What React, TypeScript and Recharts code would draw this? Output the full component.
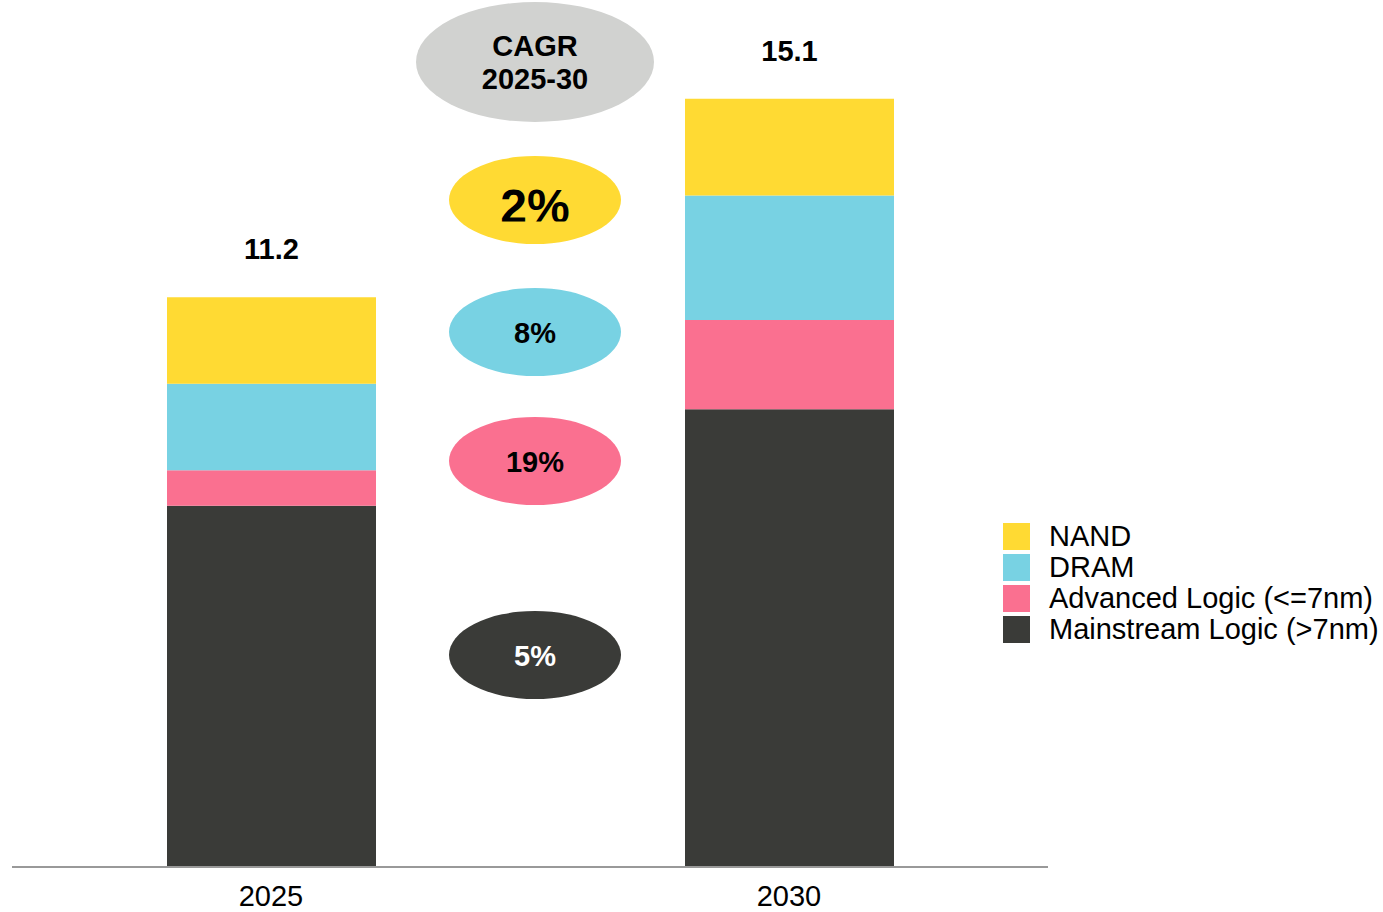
import React from "react";
import { BarChart, Bar, XAxis, YAxis, Legend, LabelList, Customized } from "recharts";

const years = ["2025", "2030"];
const mainstream = [7.1, 9.0];
const advanced = [0.7, 1.75];
const dram = [1.7, 2.45];
const nand = [1.7, 1.9];
const totals = ["11.2", "15.1"];

const seriesNames = ["Mainstream Logic (>7nm)", "Advanced Logic (<=7nm)", "DRAM", "NAND"];
const seriesKeys = ["mainstream", "advanced", "dram", "nand"];
const seriesColors = ["#3A3B38", "#FA7090", "#78D2E3", "#FFDA33"];
const cagrLabels = ["5%", "19%", "8%", "2%"];

const data = years.map((y, i) => ({
  year: y,
  mainstream: mainstream[i],
  advanced: advanced[i],
  dram: dram[i],
  nand: nand[i],
  total: totals[i],
}));

const FONT = "'Liberation Sans', Arial, sans-serif";

const CagrBubbles = () => {
  const cx = 535;
  const bubbles = [
    { cy: 655, label: cagrLabels[0], fill: seriesColors[0], color: "#FFFFFF" },
    { cy: 461, label: cagrLabels[1], fill: seriesColors[1], color: "#000000" },
    { cy: 332, label: cagrLabels[2], fill: seriesColors[2], color: "#000000" },
  ];
  return (
    <g>
      <ellipse cx={cx} cy={62} rx={119} ry={60} fill="#D1D2D0" />
      <text x={cx} y={55.5} textAnchor="middle" fontFamily={FONT} fontWeight="bold" fontSize={29} fill="#000">CAGR</text>
      <text x={cx} y={88.5} textAnchor="middle" fontFamily={FONT} fontWeight="bold" fontSize={29} fill="#000">2025-30</text>
      <defs>
        <clipPath id="clip2pct">
          <rect x={cx - 100} y={158} width={200} height={63.5} />
        </clipPath>
      </defs>
      <ellipse cx={cx} cy={200} rx={86} ry={44} fill={seriesColors[3]} />
      <text x={cx} y={223} textAnchor="middle" fontFamily={FONT} fontWeight="bold" fontSize={48} fill="#000" clipPath="url(#clip2pct)">{cagrLabels[3]}</text>
      {bubbles.map((b, i) => (
        <g key={i}>
          <ellipse cx={cx} cy={b.cy} rx={86} ry={44} fill={b.fill} />
          <text x={cx} y={b.cy + 10.5} textAnchor="middle" fontFamily={FONT} fontWeight="bold" fontSize={29} fill={b.color}>{b.label}</text>
        </g>
      ))}
    </g>
  );
};

const LegendContent = () => {
  const order = [3, 2, 1, 0];
  return (
    <div style={{ fontFamily: FONT, fontSize: 29, color: "#000" }}>
      {order.map((i) => (
        <div key={i} style={{ display: "flex", alignItems: "center", height: 31 }}>
          <div style={{ width: 27, height: 27, background: seriesColors[i], marginRight: 19, flexShrink: 0 }} />
          <span style={{ lineHeight: "31px", whiteSpace: "nowrap" }}>{seriesNames[i]}</span>
        </div>
      ))}
    </div>
  );
};

export default function App() {
  return (
    <div style={{ position: "absolute", left: 0, top: 0, width: 1383, height: 912, overflow: "hidden", background: "#fff" }}>
      <BarChart
        width={1383}
        height={912}
        data={data}
        margin={{ top: 53, right: 335, bottom: 5, left: 12 }}
        barCategoryGap={0}
      >
        <XAxis
          dataKey="year"
          axisLine={{ stroke: "#999999", strokeWidth: 2 }}
          tickLine={false}
          tickSize={0}
          tickMargin={18}
          height={40}
          tick={{ fontFamily: FONT, fontSize: 29, fill: "#000" }}
          interval={0}
        />
        <YAxis hide domain={[0, 16]} />
        {seriesKeys.map((k, i) => (
          <Bar
            key={k}
            dataKey={k}
            name={seriesNames[i]}
            stackId="a"
            fill={seriesColors[i]}
            barSize={209}
            isAnimationActive={false}
          >
            {k === "nand" && (
              <LabelList
                dataKey="total"
                position="top"
                offset={38}
                style={{ fontFamily: FONT, fontSize: 29, fontWeight: "bold", fill: "#000" }}
              />
            )}
          </Bar>
        ))}
        <Customized component={CagrBubbles} />
        <Legend
          layout="horizontal"
          align="center"
          verticalAlign="middle"
          content={<LegendContent />}
          wrapperStyle={{ position: "absolute", left: 1003, top: 521, width: 380 }}
        />
      </BarChart>
    </div>
  );
}
